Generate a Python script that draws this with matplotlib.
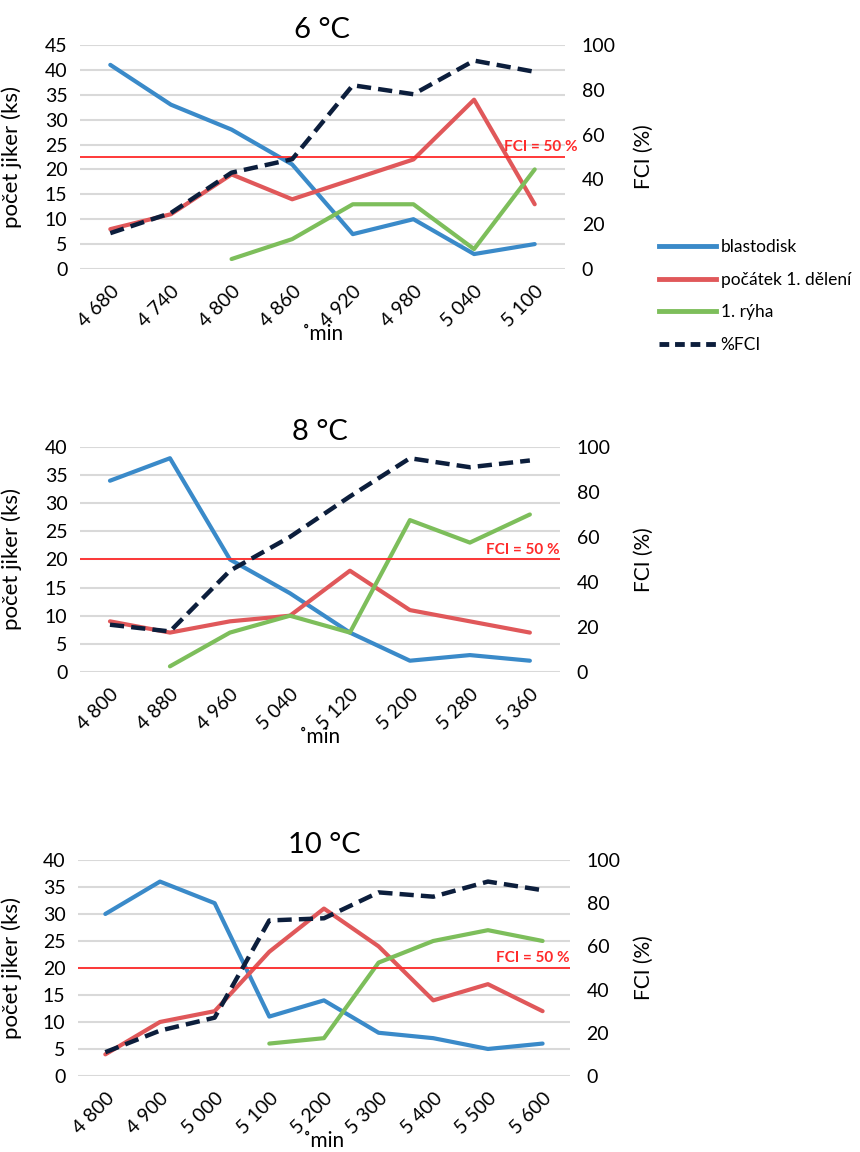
import numpy as np
import matplotlib.pyplot as plt
from matplotlib.lines import Line2D

plt.rcParams['font.family'] = ['Lato', 'DejaVu Sans']

series_names = ['blastodisk', 'počátek 1. dělení', '1. rýha', '%FCI']

# 6 °C
t6_title = '6 °C'
t6_labels = ['4 680', '4 740', '4 800', '4 860', '4 920', '4 980', '5 040', '5 100']
t6_blasto = [41, 33, 28, 21, 7, 10, 3, 5]
t6_pocatek = [8, 11, 19, 14, 18, 22, 34, 13]
t6_ryha = [np.nan, np.nan, 2, 6, 13, 13, 4, 20]
t6_fci = [16, 25, 43, 49, 82, 78, 93, 88]
t6_ymax = 45

# 8 °C
t8_title = '8 °C'
t8_labels = ['4 800', '4 880', '4 960', '5 040', '5 120', '5 200', '5 280', '5 360']
t8_blasto = [34, 38, 20, 14, 7, 2, 3, 2]
t8_pocatek = [9, 7, 9, 10, 18, 11, 9, 7]
t8_ryha = [np.nan, 1, 7, 10, 7, 27, 23, 28]
t8_fci = [21, 18, 45, 60, 78, 95, 91, 94]
t8_ymax = 40

# 10 °C
t10_title = '10 °C'
t10_labels = ['4 800', '4 900', '5 000', '5 100', '5 200', '5 300', '5 400', '5 500', '5 600']
t10_blasto = [30, 36, 32, 11, 14, 8, 7, 5, 6]
t10_pocatek = [4, 10, 12, 23, 31, 24, 14, 17, 12]
t10_ryha = [np.nan, np.nan, np.nan, 6, 7, 21, 25, 27, 25]
t10_fci = [11, 21, 27, 72, 73, 85, 83, 90, 86]
t10_ymax = 40

fci_threshold = 50

BLUE = '#3A8AC9'
RED = '#E0585A'
GREEN = '#7DBE5B'
NAVY = '#0C1E3C'
LINE_RED = '#FF2A2A'
GRID = '#D9D9D9'

FIG_W = 860


def draw_panel(fig, rect, title, labels, blasto, pocatek, ryha, fci, ymax, fci_text_x):
    ax = fig.add_axes(rect)
    ax2 = ax.twinx()
    x = np.arange(len(labels))

    ax.plot(x, blasto, color=BLUE, lw=3, solid_capstyle='round', zorder=3)
    ax.plot(x, pocatek, color=RED, lw=3, solid_capstyle='round', zorder=3)
    ax.plot(x, ryha, color=GREEN, lw=3, solid_capstyle='round', zorder=3)
    ax2.plot(x, fci, color=NAVY, lw=3.2, ls=(0, (3.2, 1.6)), zorder=4)

    ax.set_xlim(-0.5, len(labels) - 0.5)
    ax.set_ylim(0, ymax)
    ax.set_yticks(np.arange(0, ymax + 1, 5))
    ax2.set_ylim(0, 100)
    ax2.set_yticks(np.arange(0, 101, 20))

    ax.yaxis.grid(True, color=GRID, lw=1.5)
    ax.set_axisbelow(True)
    ax2.axhline(fci_threshold, color=LINE_RED, lw=1.3, zorder=2)
    ax2.text(fci_text_x, fci_threshold + 1.2, 'FCI = 50 %', color=LINE_RED,
             fontsize=11, fontweight='bold', ha='right', va='bottom',
             transform=ax2.get_yaxis_transform())

    for a in (ax, ax2):
        for s in a.spines.values():
            s.set_visible(False)
        a.tick_params(length=0, labelsize=14)
    ax.tick_params(axis='y', pad=9)
    ax2.tick_params(axis='y', pad=12)

    ax.set_xticks(x)
    ax.set_xticklabels(labels, rotation=45, ha='right', rotation_mode='anchor')
    ax.tick_params(axis='x', pad=10)

    ax.set_xlabel('˚min', fontsize=15, labelpad=-5)
    ax.set_ylabel('počet jiker (ks)', fontsize=16)
    left_px = rect[0] * FIG_W
    width_px = rect[2] * FIG_W
    ax.yaxis.set_label_coords((22 - left_px) / width_px, 0.5)
    ax2.set_ylabel('FCI (%)', fontsize=15)
    ax2.yaxis.set_label_coords((634 - left_px) / width_px, 0.5)
    ax.set_title(title, fontsize=21, pad=5)
    return ax


fig = plt.figure(figsize=(8.6, 11.52), dpi=100)

draw_panel(fig, [0.093, 0.7665, 0.564, 0.1945], t6_title, t6_labels,
           t6_blasto, t6_pocatek, t6_ryha, t6_fci, t6_ymax, 1.025)
draw_panel(fig, [0.093, 0.4167, 0.558, 0.1953], t8_title, t8_labels,
           t8_blasto, t8_pocatek, t8_ryha, t8_fci, t8_ymax, 1.0)
draw_panel(fig, [0.0907, 0.066, 0.572, 0.1875], t10_title, t10_labels,
           t10_blasto, t10_pocatek, t10_ryha, t10_fci, t10_ymax, 1.0)

handles = [
    Line2D([], [], color=BLUE, lw=3.5),
    Line2D([], [], color=RED, lw=3.5),
    Line2D([], [], color=GREEN, lw=3.5),
    Line2D([], [], color=NAVY, lw=3.5, ls=(0, (2, 1.2))),
]
fig.legend(handles, series_names, loc='upper left', bbox_to_anchor=(0.748, 0.806),
           frameon=False, handlelength=3.3, handletextpad=0.25,
           labelspacing=0.95, prop={'family': ['Lato', 'DejaVu Sans'], 'size': 12.5})

fig.savefig('out.png', dpi=100)
